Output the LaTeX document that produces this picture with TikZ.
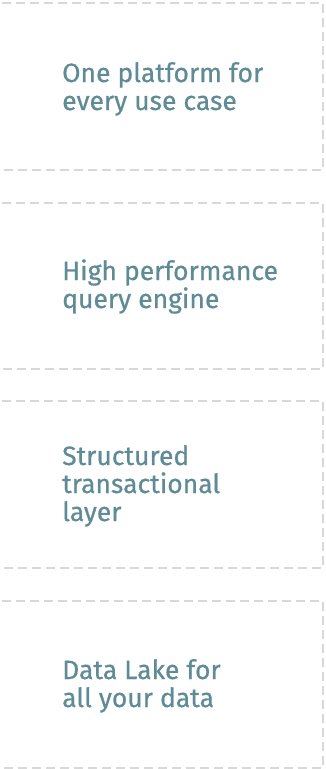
\documentclass[tikz,border=0pt]{standalone}
\usepackage{fontspec}
\setmainfont{Fira Sans}[FakeBold=0.6]
\definecolor{txt}{HTML}{5F8B96}
\definecolor{dash}{HTML}{D8D8D8}
\tikzset{
  panel/.style={draw=dash, line width=2pt, dash pattern=on 9pt off 5pt},
  label/.style={anchor=base west, inner sep=0pt, align=left, text=txt,
    font=\fontsize{26.5pt}{28pt}\selectfont}
}
\begin{document}
\begin{tikzpicture}[x=1pt,y=-1pt]
\useasboundingbox (0,0) rectangle (326,769);
% panels (open on the left)
\draw[panel] (2,3) -- (323,3) -- (323,170) -- (2,170);
\draw[panel] (2,203) -- (323,203) -- (323,369) -- (2,369);
\draw[panel] (2,401) -- (323,401) -- (323,568) -- (2,568);
\draw[panel] (2,601) -- (323,601) -- (323,767.5) -- (2,767.5);
% labels (anchored at the baseline of the last line)
\node[label] (t1) at (62,110) {One platform for\\every use case};
\node[label] (t2) at (62,308) {High performance\\query engine};
\node[label] (t3) at (62,521) {Structured\\transactional\\layer};
\node[label] (t4) at (62,707) {Data Lake for\\all your data};
\end{tikzpicture}
\end{document}
